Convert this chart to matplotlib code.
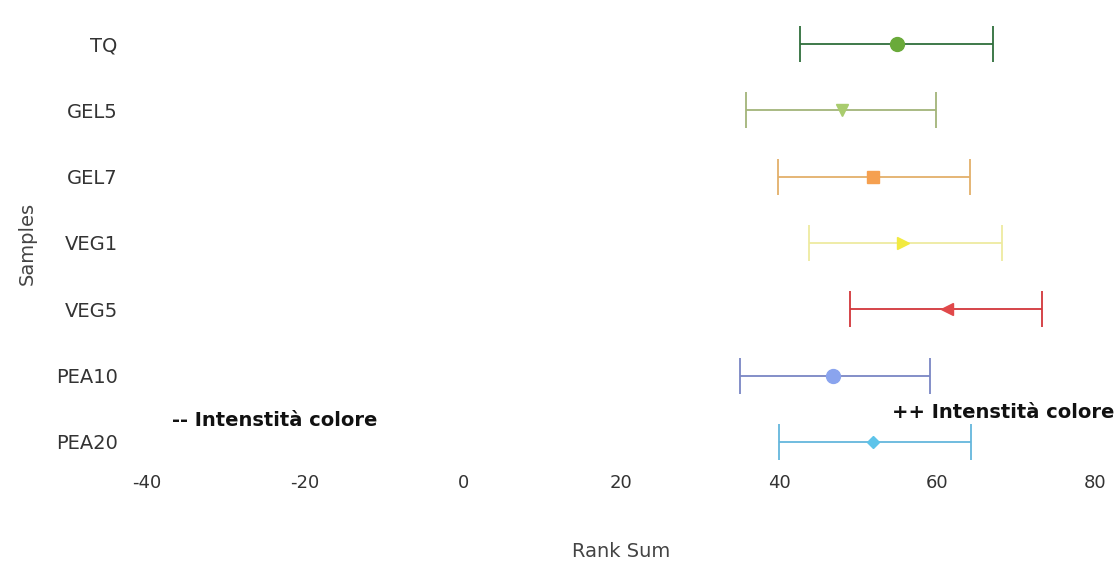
import matplotlib.pyplot as plt

plt.rcParams["axes.unicode_minus"] = False

# dati
samples = ["TQ", "GEL5", "GEL7", "VEG1", "VEG5", "PEA10", "PEA20"]
rank_mean = [54.9, 48.0, 51.9, 55.7, 61.3, 46.8, 51.9]
rank_low = [42.7, 35.8, 39.9, 43.8, 49.0, 35.0, 40.0]
rank_high = [67.1, 59.9, 64.1, 68.2, 73.3, 59.1, 64.3]

markers = ["o", "v", "s", ">", "<", "o", "D"]
marker_colors = ["#6aaa3a", "#a9cc6e", "#f5a050", "#f2ea40", "#e0484a", "#8aa4ee", "#5ec4ea"]
bar_colors = ["#2f6e3c", "#a3b47a", "#e3b06a", "#eeeaa0", "#d2363a", "#7a86c4", "#64b6dc"]
marker_sizes = [10, 8, 9, 8, 9, 10, 6]

fig = plt.figure(figsize=(11.15, 5.65), dpi=100)
ax = fig.add_axes([0.1318, 0.159, 0.8504, 0.822])

for i, s in enumerate(samples):
    m = rank_mean[i]
    err = [[m - rank_low[i]], [rank_high[i] - m]]
    ax.errorbar([m], [i], xerr=err, fmt="none", ecolor=bar_colors[i],
                elinewidth=1.3, capsize=13, capthick=1.3)
    ax.plot([m], [i], marker=markers[i], color=marker_colors[i],
            markersize=marker_sizes[i], linestyle="none")

ax.set_xlim(-40, 80)
ax.set_ylim(6.5, -0.5)
ax.set_yticks(range(len(samples)))
ax.set_yticklabels(samples)
ax.set_xticks([-40, -20, 0, 20, 40, 60, 80])
ax.tick_params(axis="y", length=0, labelsize=14, colors="#333333", pad=21)
ax.tick_params(axis="x", length=0, labelsize=13, colors="#333333", pad=-1)
for sp in ax.spines.values():
    sp.set_visible(False)

ax.set_xlabel("Rank Sum", fontsize=14, color="#444444", labelpad=36)
ax.set_ylabel("Samples", fontsize=14, color="#444444", labelpad=14)

ax.text(-36.8, 5.67, "-- Intenstità colore", fontsize=14, fontweight="bold",
        va="center", ha="left", color="#111111")
ax.text(54.3, 5.56, "++ Intenstità colore", fontsize=14, fontweight="bold",
        va="center", ha="left", color="#111111", clip_on=False)

plt.savefig("out.png", dpi=100)
